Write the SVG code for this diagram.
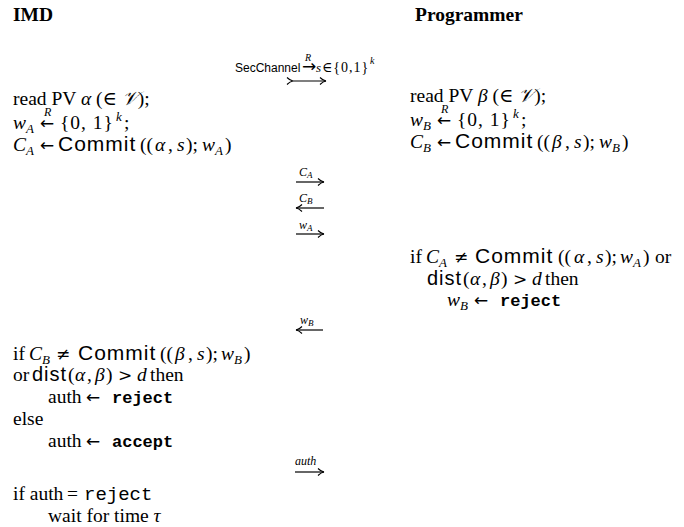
<svg xmlns="http://www.w3.org/2000/svg" width="684" height="527" viewBox="0 0 684 527" style="font-size:19.5px">
<style>
text{font-family:"Liberation Serif","DejaVu Serif",serif;fill:#000}
.b{font-weight:bold}
.i{font-style:italic}
.sf{font-family:"Liberation Sans","DejaVu Sans",sans-serif;font-size:21px;letter-spacing:1px}
.sd{font-family:"Liberation Sans","DejaVu Sans",sans-serif;font-size:20px;letter-spacing:1px}
.ss{font-family:"Liberation Sans","DejaVu Sans",sans-serif;font-size:12px}
.arw{font-family:"DejaVu Sans",sans-serif;font-size:17px}
.rel{font-family:"DejaVu Serif",serif;font-size:17px}
.m{font-family:"Liberation Mono","DejaVu Sans Mono",monospace;font-weight:bold;font-size:17px}
.mn{font-family:"Liberation Mono","DejaVu Sans Mono",monospace;font-size:19px}
.sub{font-size:13px;font-style:italic}
.sm{font-size:12px;font-style:italic}
.ar{stroke:#000;stroke-width:1.2;fill:none}
</style>
<defs>
<marker id="ah" markerWidth="8" markerHeight="8" refX="7" refY="4" orient="auto" markerUnits="userSpaceOnUse">
<path d="M1,0.5 Q4,3.5 7,4 Q4,4.5 1,7.5" fill="none" stroke="#000" stroke-width="1.1"/>
</marker>
</defs>

<g id="headers">
<text x="13" y="21" class="b">IMD</text>
<text x="415" y="21" class="b">Programmer</text>
</g>

<g id="secchannel">
<text x="235" y="72" class="ss">SecChannel</text>
<text x="305" y="61" class="i" font-size="10">R</text>
<text x="302" y="72" class="arw" font-size="12">→</text>
<text x="316" y="72" class="i" font-size="13">s</text>
<text x="322" y="72" font-size="14" letter-spacing="1">∈{0,1}</text>
<text x="370" y="64" class="i" font-size="10">k</text>
<path class="ar" d="M293,81 H326" marker-end="url(#ah)" marker-start="url(#ah)"/>
</g>

<g id="imd-init">
<text x="13" y="105">read PV <tspan class="i">α</tspan> (∈ <tspan class="i">𝒱</tspan>);</text>
<text y="129"><tspan class="i" x="13">w</tspan><tspan class="sub" x="26" y="133">A</tspan><tspan class="arw" x="40" y="129">←</tspan><tspan x="60" letter-spacing="1">{0, 1}</tspan><tspan class="sub" x="116" y="121">k</tspan><tspan x="124" y="129">;</tspan></text>
<text x="44" y="116" class="sm" font-size="11">R</text>
<text y="151"><tspan class="i" x="13">C</tspan><tspan class="sub" x="26" y="155">A</tspan><tspan class="arw" x="40" y="151">←</tspan><tspan class="sf" x="58">Commit</tspan><tspan x="140">((</tspan><tspan class="i" x="155">α</tspan><tspan x="168">,</tspan><tspan class="i" x="177">s</tspan><tspan x="186">);</tspan><tspan class="i" x="202">w</tspan><tspan class="sub" x="215" y="155">A</tspan><tspan x="225" y="151">)</tspan></text>
</g>

<g id="prog-init">
<text x="410" y="102">read PV <tspan class="i">β</tspan> (∈ <tspan class="i">𝒱</tspan>);</text>
<text y="126"><tspan class="i" x="410">w</tspan><tspan class="sub" x="423" y="130">B</tspan><tspan class="arw" x="437" y="126">←</tspan><tspan x="457" letter-spacing="1">{0, 1}</tspan><tspan class="sub" x="513" y="118">k</tspan><tspan x="521" y="126">;</tspan></text>
<text x="441" y="113" class="sm" font-size="11">R</text>
<text y="148"><tspan class="i" x="410">C</tspan><tspan class="sub" x="423" y="152">B</tspan><tspan class="arw" x="437" y="148">←</tspan><tspan class="sf" x="455">Commit</tspan><tspan x="537">((</tspan><tspan class="i" x="552">β</tspan><tspan x="565">,</tspan><tspan class="i" x="574">s</tspan><tspan x="583">);</tspan><tspan class="i" x="599">w</tspan><tspan class="sub" x="612" y="152">B</tspan><tspan x="622" y="148">)</tspan></text>
</g>

<g id="prog-check">
<text y="263"><tspan x="410">if</tspan><tspan class="i" x="426">C</tspan><tspan class="sub" x="439" y="267">A</tspan><tspan class="rel" x="454" y="263">≠</tspan><tspan class="sf" x="475">Commit</tspan><tspan x="558">((</tspan><tspan class="i" x="574">α</tspan><tspan x="587">,</tspan><tspan class="i" x="596">s</tspan><tspan x="605">);</tspan><tspan class="i" x="620">w</tspan><tspan class="sub" x="633" y="267">A</tspan><tspan x="643" y="263">)</tspan><tspan x="655">or</tspan></text>
<text y="285"><tspan class="sd" x="427">dist</tspan><tspan x="463">(</tspan><tspan class="i" x="470">α</tspan><tspan x="482">,</tspan><tspan class="i" x="490">β</tspan><tspan x="501">)</tspan><tspan class="rel" x="513">&gt;</tspan><tspan class="i" x="532">d</tspan><tspan x="545">then</tspan></text>
<text y="306"><tspan class="i" x="447">w</tspan><tspan class="sub" x="460" y="310">B</tspan><tspan class="arw" x="474" y="306">←</tspan><tspan class="m" x="500">reject</tspan></text>
</g>

<g id="imd-check">
<text y="360"><tspan x="13">if</tspan><tspan class="i" x="29">C</tspan><tspan class="sub" x="42" y="364">B</tspan><tspan class="rel" x="56" y="360">≠</tspan><tspan class="sf" x="78">Commit</tspan><tspan x="160">((</tspan><tspan class="i" x="175">β</tspan><tspan x="188">,</tspan><tspan class="i" x="197">s</tspan><tspan x="206">);</tspan><tspan class="i" x="221">w</tspan><tspan class="sub" x="234" y="364">B</tspan><tspan x="244" y="360">)</tspan></text>
<text y="381"><tspan x="13">or</tspan><tspan class="sd" x="32">dist</tspan><tspan x="68">(</tspan><tspan class="i" x="75">α</tspan><tspan x="87">,</tspan><tspan class="i" x="95">β</tspan><tspan x="106">)</tspan><tspan class="rel" x="118">&gt;</tspan><tspan class="i" x="137">d</tspan><tspan x="150">then</tspan></text>
<text y="403"><tspan x="48">auth</tspan><tspan class="arw" x="86">←</tspan><tspan class="m" x="112">reject</tspan></text>
<text x="13" y="425">else</text>
<text y="447"><tspan x="48">auth</tspan><tspan class="arw" x="86">←</tspan><tspan class="m" x="112">accept</tspan></text>
</g>

<g id="imd-wait">
<text y="500"><tspan x="13">if auth</tspan><tspan x="67">=</tspan><tspan class="mn" x="84">reject</tspan></text>
<text x="48" y="522">wait for time <tspan class="i">τ</tspan></text>
</g>

<g id="connectors">
<text x="299" y="176" class="sm">C<tspan font-size="9" dy="2">A</tspan></text>
<path class="ar" d="M296,182 H324" marker-end="url(#ah)"/>
<text x="299" y="202" class="sm">C<tspan font-size="9" dy="2">B</tspan></text>
<path class="ar" d="M324,208 H296" marker-end="url(#ah)"/>
<text x="299" y="229" class="sm">w<tspan font-size="9" dy="2">A</tspan></text>
<path class="ar" d="M296,234 H324" marker-end="url(#ah)"/>
<text x="300" y="324" class="sm">w<tspan font-size="9" dy="2">B</tspan></text>
<path class="ar" d="M323,330 H296" marker-end="url(#ah)"/>
<text x="295" y="465" class="sm">auth</text>
<path class="ar" d="M295,472 H324" marker-end="url(#ah)"/>
</g>
</svg>
